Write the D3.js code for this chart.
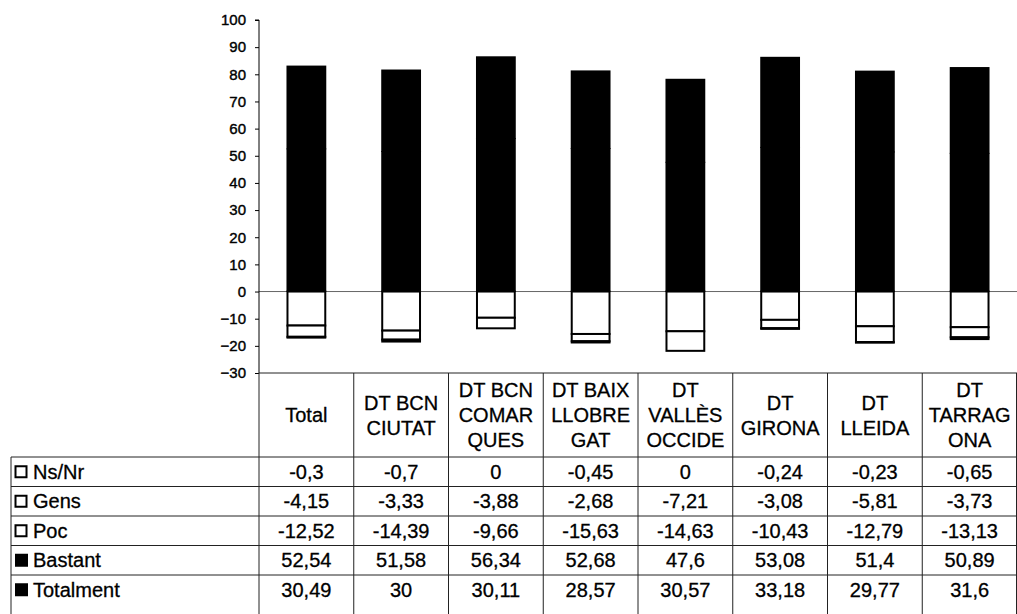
<!DOCTYPE html>
<html>
<head>
<meta charset="utf-8">
<script src="https://cdn.jsdelivr.net/npm/d3@7/dist/d3.min.js"></script>
<style>
  html, body { margin: 0; padding: 0; background: #fff; }
  svg { display: block; font-family: "Liberation Sans", Arial, sans-serif; }
</style>
</head>
<body>
<svg id="chart" width="1017" height="614"></svg>
<script>
// ---- data ----
const categories = ["Total", "DT BCN CIUTAT", "DT BCN COMARQUES", "DT BAIX LLOBREGAT", "DT VALLÈS OCCIDE", "DT GIRONA", "DT LLEIDA", "DT TARRAGONA"];
const headerLines = [["Total"], ["DT BCN", "CIUTAT"], ["DT BCN", "COMAR", "QUES"], ["DT BAIX", "LLOBRE", "GAT"], ["DT", "VALLÈS", "OCCIDE"], ["DT", "GIRONA"], ["DT", "LLEIDA"], ["DT", "TARRAG", "ONA"]];
const seriesNames = ["Ns/Nr", "Gens", "Poc", "Bastant", "Totalment"];
const nsnr      = [-0.3, -0.7, 0, -0.45, 0, -0.24, -0.23, -0.65];
const gens      = [-4.15, -3.33, -3.88, -2.68, -7.21, -3.08, -5.81, -3.73];
const poc       = [-12.52, -14.39, -9.66, -15.63, -14.63, -10.43, -12.79, -13.13];
const bastant   = [52.54, 51.58, 56.34, 52.68, 47.6, 53.08, 51.4, 50.89];
const totalment = [30.49, 30, 30.11, 28.57, 30.57, 33.18, 29.77, 31.6];
const labelText = {
  "Ns/Nr": ["-0,3", "-0,7", "0", "-0,45", "0", "-0,24", "-0,23", "-0,65"],
  "Gens": ["-4,15", "-3,33", "-3,88", "-2,68", "-7,21", "-3,08", "-5,81", "-3,73"],
  "Poc": ["-12,52", "-14,39", "-9,66", "-15,63", "-14,63", "-10,43", "-12,79", "-13,13"],
  "Bastant": ["52,54", "51,58", "56,34", "52,68", "47,6", "53,08", "51,4", "50,89"],
  "Totalment": ["30,49", "30", "30,11", "28,57", "30,57", "33,18", "29,77", "31,6"]
};
const yTicks = [-30, -20, -10, 0, 10, 20, 30, 40, 50, 60, 70, 80, 90, 100];
const seriesFill = { "Ns/Nr": "#fff", "Gens": "#fff", "Poc": "#fff", "Bastant": "#000", "Totalment": "#000" };

// ---- layout ----
const svg = d3.select("#chart");
const plotLeft = 259, plotRight = 1017;
const yTop = 20, yBottom = 373;
const headerBottom = 457, rowH = 29.5, legendLeft = 11;
const tableFont = 20;

const x = d3.scaleBand().domain(categories).range([plotLeft, plotRight]).paddingInner(0.58).paddingOuter(0.29);
const xBand = d3.scaleBand().domain(categories).range([plotLeft, plotRight]);
const y = d3.scaleLinear().domain([-30, 100]).range([yBottom, yTop]);

const table = categories.map((c, i) => ({
  cat: c, "Ns/Nr": nsnr[i], "Gens": gens[i], "Poc": poc[i], "Bastant": bastant[i], "Totalment": totalment[i]
}));
const stack = d3.stack().keys(["Bastant", "Totalment", "Poc", "Gens", "Ns/Nr"]).offset(d3.stackOffsetDiverging);
const layers = stack(table);

// zero line
svg.append("line").attr("x1", plotLeft).attr("x2", plotRight).attr("y1", y(0)).attr("y2", y(0))
  .attr("stroke", "#666").attr("stroke-width", 1);

// bars
layers.forEach(layer => {
  const key = layer.key;
  const neg = seriesFill[key] === "#fff";
  svg.append("g").selectAll("rect").data(layer).join("rect")
    .attr("x", d => x(d.data.cat) + (neg ? 1 : 0))
    .attr("width", x.bandwidth() - (neg ? 2 : 0))
    .attr("y", d => y(Math.max(d[0], d[1])) - (neg ? 0 : 0.5))
    .attr("height", d => Math.abs(y(d[0]) - y(d[1])) + (neg ? 0 : 1))
    .attr("fill", seriesFill[key])
    .attr("stroke", neg ? "#000" : "none")
    .attr("stroke-width", neg ? 2 : 0);
});

// y axis
const axis = d3.axisLeft(y).tickValues(yTicks).tickSize(4).tickPadding(9).tickFormat(d3.format("d"));
const ax = svg.append("g").attr("transform", `translate(${plotLeft},0)`).call(axis);
ax.select(".domain").attr("stroke", "#000").attr("d", `M-4,${yTop}H0V${yBottom}`);
ax.selectAll(".tick line").attr("stroke", "#000");
ax.selectAll(".tick text").attr("font-size", 15).attr("fill", "#000")
  .attr("stroke", "#000").attr("stroke-width", 0.4)
  .attr("font-family", "'Liberation Sans', Arial, sans-serif");

// ---- data table ----
const tg = svg.append("g");
const lineStyle = sel => sel.attr("stroke", "#222").attr("stroke-width", 1);
const txt = sel => sel.attr("font-size", tableFont).attr("fill", "#000").attr("stroke", "#000").attr("stroke-width", 0.3);
// header top line
tg.append("line").attr("x1", plotLeft).attr("x2", plotRight).attr("y1", yBottom).attr("y2", yBottom).call(lineStyle);
// vertical lines for columns
categories.forEach((c, i) => {
  tg.append("line").attr("x1", xBand(c)).attr("x2", xBand(c)).attr("y1", yBottom).attr("y2", 614).call(lineStyle);
});
tg.append("line").attr("x1", plotRight - 0.5).attr("x2", plotRight - 0.5).attr("y1", yBottom).attr("y2", 614).call(lineStyle);
// legend left line
tg.append("line").attr("x1", legendLeft).attr("x2", legendLeft).attr("y1", headerBottom).attr("y2", 614).call(lineStyle);
// row lines
for (let r = 0; r < seriesNames.length; r++) {
  const yy = headerBottom + r * rowH;
  tg.append("line").attr("x1", legendLeft).attr("x2", plotRight).attr("y1", yy).attr("y2", yy).call(lineStyle);
}
// header text
categories.forEach((c, i) => {
  const lines = headerLines[i];
  const cx = xBand(c) + xBand.bandwidth() / 2;
  const lh = 25;
  const cy = (yBottom + headerBottom) / 2;
  const t = tg.append("text").attr("text-anchor", "middle").call(txt);
  lines.forEach((ln, k) => {
    t.append("tspan").attr("x", cx).attr("y", cy + (k - (lines.length - 1) / 2) * lh + 7).text(ln);
  });
});
// rows
seriesNames.forEach((s, r) => {
  const top = headerBottom + r * rowH;
  const cy = top + rowH / 2;
  const solid = seriesFill[s] === "#000";
  if (solid) {
    tg.append("rect").attr("x", 15).attr("y", cy - 6.5).attr("width", 13).attr("height", 13).attr("fill", "#000");
  } else {
    tg.append("rect").attr("x", 15.5).attr("y", cy - 5.5).attr("width", 11).attr("height", 11)
      .attr("fill", "#fff").attr("stroke", "#000").attr("stroke-width", 2);
  }
  tg.append("text").attr("x", 33).attr("y", cy + 7).call(txt).text(s);
  categories.forEach((c, i) => {
    tg.append("text").attr("x", xBand(c) + xBand.bandwidth() / 2).attr("y", cy + 7)
      .attr("text-anchor", "middle").call(txt).text(labelText[s][i]);
  });
});
</script>
</body>
</html>
